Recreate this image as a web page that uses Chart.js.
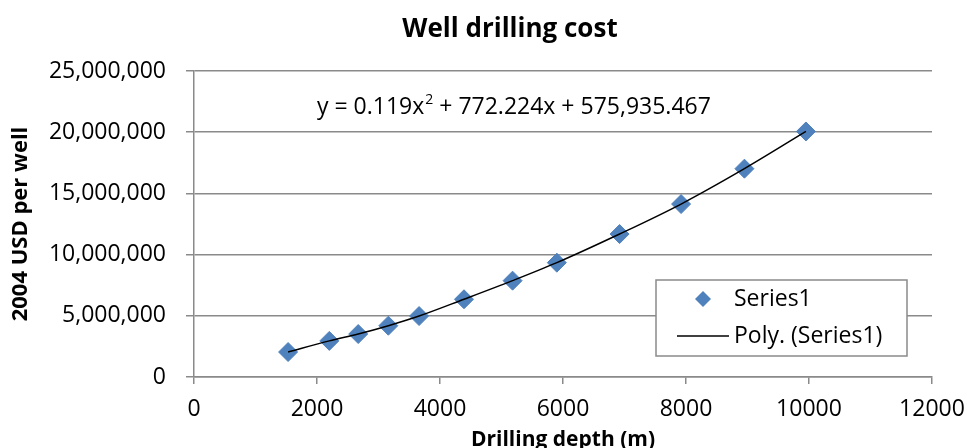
<!DOCTYPE html>
<html>
<head>
<meta charset="utf-8">
<script src="https://cdn.jsdelivr.net/npm/chart.js@4.4.1/dist/chart.umd.min.js"></script>
<style>
  body { margin: 0; background: #fff; }
  #wrap { width: 967px; height: 448px; }
</style>
</head>
<body>
<div id="wrap"><canvas id="grafico" width="967" height="448"></canvas></div>
<script>
// Datos: profundidad (m) y costo (USD 2004 por pozo)
const depths = [1530, 2200, 2670, 3160, 3660, 4390, 5180, 5900, 6920, 7920, 8950, 9950];
const costs = [2040000, 2950000, 3510000, 4190000, 4980000, 6350000, 7870000, 9340000, 11680000, 14130000, 17020000, 20060000];
const xTicks = [0, 2000, 4000, 6000, 8000, 10000, 12000];
const yTicks = [0, 5000000, 10000000, 15000000, 20000000, 25000000];
const equationParts = ["y = 0.119x", "2", " + 772.224x + 575,935.467"];
const legendLabels = ["Series1", "Poly. (Series1)"];
const titulo = "Well drilling cost";

const FONT = "'Open Sans', sans-serif";
const GRID = "#8a8a8a";
const BLUE = "#4F81BD";

const puntos = depths.map((d, i) => ({ x: d, y: costs[i] }));

// Título, ecuación y leyenda dibujados a mano
const extras = {
  id: "extras",
  afterDraw(chart) {
    const ctx = chart.ctx;
    const area = chart.chartArea;
    const xs = chart.scales.x, ys = chart.scales.y;

    ctx.save();
    // título (centrado como en el original, algo a la derecha del centro)
    ctx.fillStyle = "#000";
    ctx.font = "bold 26px " + FONT;
    ctx.textAlign = "center";
    ctx.textBaseline = "middle";
    ctx.fillText(titulo, 510, 30);

    // ecuación de la línea de tendencia
    ctx.textAlign = "left";
    ctx.textBaseline = "alphabetic";
    let ex = xs.getPixelForValue(2000);
    let ey = ys.getPixelForValue(21450000);
    ctx.font = "23px " + FONT;
    ctx.fillText(equationParts[0], ex, ey);
    ex += ctx.measureText(equationParts[0]).width;
    ctx.font = "14px " + FONT;
    ctx.fillText(equationParts[1], ex + 1, ey - 10);
    ex += ctx.measureText(equationParts[1]).width + 1;
    ctx.font = "23px " + FONT;
    ctx.fillText(equationParts[2], ex, ey);

    // leyenda
    const bw = 251, bh = 76;
    const bx = area.right - 25 - bw, by = area.bottom - 21 - bh;
    ctx.fillStyle = "#fff";
    ctx.fillRect(bx, by, bw, bh);
    ctx.strokeStyle = GRID;
    ctx.lineWidth = 1.5;
    ctx.strokeRect(bx, by, bw, bh);

    const y1 = by + 19, y2 = by + 56;
    ctx.fillStyle = BLUE;
    ctx.beginPath();
    const cx = bx + 47, r = 8;
    ctx.moveTo(cx, y1 - r); ctx.lineTo(cx + r, y1); ctx.lineTo(cx, y1 + r); ctx.lineTo(cx - r, y1);
    ctx.closePath(); ctx.fill();

    ctx.strokeStyle = "#000";
    ctx.lineWidth = 1.5;
    ctx.beginPath();
    ctx.moveTo(bx + 21, y2); ctx.lineTo(bx + 73, y2);
    ctx.stroke();

    ctx.fillStyle = "#000";
    ctx.font = "23px " + FONT;
    ctx.textBaseline = "middle";
    ctx.fillText(legendLabels[0], bx + 78, y1);
    ctx.fillText(legendLabels[1], bx + 78, y2);
    ctx.restore();
  }
};

new Chart(document.getElementById("grafico"), {
  type: "scatter",
  data: {
    datasets: [
      {
        label: legendLabels[1],
        data: puntos,
        showLine: true,
        cubicInterpolationMode: "monotone",
        borderColor: "#000",
        borderWidth: 1.5,
        pointRadius: 0,
        order: 0
      },
      {
        label: legendLabels[0],
        data: puntos,
        pointStyle: "rectRot",
        pointRadius: 9.5,
        backgroundColor: BLUE,
        borderColor: BLUE,
        order: 1
      }
    ]
  },
  options: {
    responsive: false,
    animation: false,
    layout: { padding: { top: 71, right: 35, bottom: -5 } },
    plugins: {
      legend: { display: false },
      tooltip: { enabled: false },
      title: { display: false }
    },
    scales: {
      x: {
        type: "linear",
        min: 0,
        max: 12000,
        afterBuildTicks: s => { s.ticks = xTicks.map(v => ({ value: v })); },
        afterFit: s => { s.height = 76; s.paddingLeft = 0; s.paddingRight = 0; },
        ticks: {
          color: "#000",
          font: { family: FONT, size: 23 },
          padding: 12,
          callback: v => String(v)
        },
        grid: { drawOnChartArea: false, color: GRID, lineWidth: 1.5, tickLength: 7 },
        border: { color: GRID, width: 1.5 },
        title: {
          display: true,
          text: "Drilling depth (m)",
          color: "#000",
          font: { family: FONT, size: 21, weight: "bold" },
          padding: { top: 0, bottom: 0 }
        }
      },
      y: {
        min: 0,
        max: 25000000,
        afterBuildTicks: s => { s.ticks = yTicks.map(v => ({ value: v })); },
        afterFit: s => { s.width = 194; },
        ticks: {
          color: "#000",
          font: { family: FONT, size: 23 },
          padding: 20,
          callback: v => v.toLocaleString("en-US")
        },
        grid: { color: GRID, lineWidth: 1.5, tickLength: 8 },
        border: { color: GRID, width: 1.5 },
        title: {
          display: true,
          text: "2004 USD per well",
          color: "#000",
          font: { family: FONT, size: 22, weight: "bold" },
          padding: { top: 8, bottom: 0 }
        }
      }
    }
  },
  plugins: [extras]
});
</script>
</body>
</html>
